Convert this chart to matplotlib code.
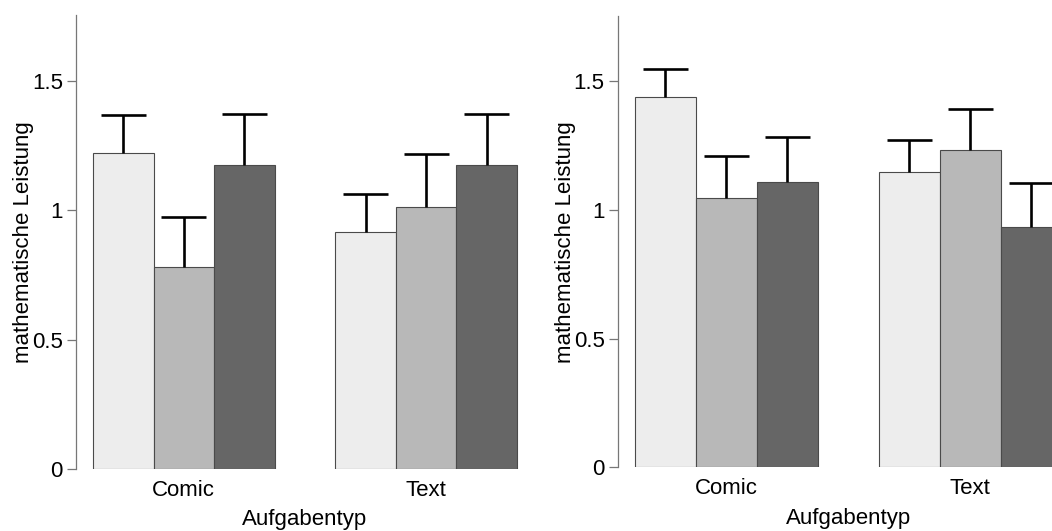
import numpy as np
import matplotlib
matplotlib.use("Agg")
import matplotlib.pyplot as plt

plt.rcParams['font.family'] = ['Liberation Sans', 'DejaVu Sans']

groups = ["Comic", "Text"]
bar_colors = ["#EDEDED", "#B8B8B8", "#666666"]

# left panel: means and upper error (per group, 3 conditions)
left_means = [[1.220, 0.780, 1.174], [0.916, 1.012, 1.174]]
left_errs = [[0.147, 0.193, 0.197], [0.146, 0.204, 0.197]]

# right panel
right_means = [[1.437, 1.047, 1.109], [1.147, 1.231, 0.932]]
right_errs = [[0.112, 0.163, 0.173], [0.124, 0.162, 0.171]]

yticks = [0, 0.5, 1, 1.5]
ytick_labels = ["0", "0.5", "1", "1.5"]

W, H = 1052, 531


def draw_panel(ax, means, errs):
    means = np.array(means)
    errs = np.array(errs)
    n_groups, n_bars = means.shape
    centers = []
    for g in range(n_groups):
        lefts = 1 + g * (n_bars + 1) + np.arange(n_bars)
        x = lefts + 0.5
        ax.bar(x, means[g], width=1.0, color=bar_colors,
               edgecolor="#4a4a4a", linewidth=0.8, zorder=2)
        tops = means[g] + errs[g]
        ax.vlines(x, means[g], tops, color="black", linewidth=1.9, zorder=3)
        ax.hlines(tops, x - 0.37, x + 0.37, color="black", linewidth=1.9, zorder=3)
        centers.append(x.mean())

    ax.set_xlim(0.72, 8.28)
    ax.set_ylim(0, 1.753)
    for s in ["top", "right", "bottom"]:
        ax.spines[s].set_visible(False)
    ax.spines["left"].set_color("#777777")
    ax.spines["left"].set_linewidth(0.9)

    ax.set_yticks(yticks)
    ax.set_yticklabels(ytick_labels)
    ax.tick_params(axis="y", direction="out", length=6.5, width=0.9,
                   color="#777777", pad=3, labelsize=16)
    ax.set_xticks(centers)
    ax.set_xticklabels(groups)
    ax.tick_params(axis="x", length=0, pad=8, labelsize=16)
    ax.set_ylabel("mathematische Leistung", fontsize=16, labelpad=-1.5)
    ax.set_xlabel("Aufgabentyp", fontsize=16, labelpad=6)


fig = plt.figure(figsize=(W / 100, H / 100), dpi=100)

ax1 = fig.add_axes([76 / W, 62 / H, 458 / W, 454 / H])
draw_panel(ax1, left_means, left_errs)

ax2 = fig.add_axes([617.7 / W, 63.7 / H, 461.2 / W, 451.3 / H])
draw_panel(ax2, right_means, right_errs)

fig.savefig("out.png", dpi=100)
